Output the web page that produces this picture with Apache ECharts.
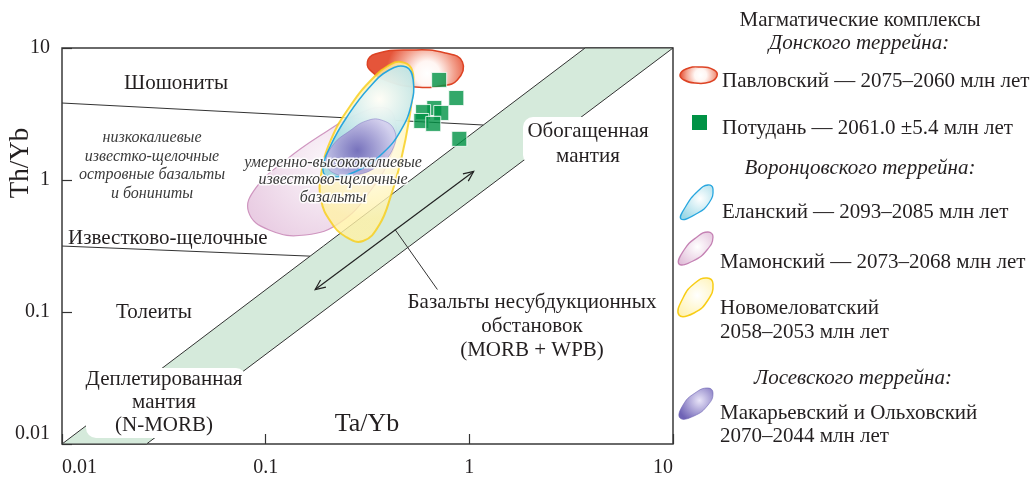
<!DOCTYPE html>
<html>
<head>
<meta charset="utf-8">
<script src="https://cdn.jsdelivr.net/npm/echarts@6/dist/echarts.min.js"></script>
<style>
  html, body { margin: 0; padding: 0; background: #fff; }
  #chart { width: 1030px; height: 478px; }
</style>
</head>
<body>
<div id="chart"></div>
<script>
// Th/Yb – Ta/Yb diagram with magmatic complexes of the Don, Vorontsovka and Losevo terranes

const xTickLabels = ['0.01', '0.1', '1', '10'];
const yTickLabels = ['0.01', '0.1', '1', '10'];

// MORB–OIB mantle array (band corners, Ta/Yb, Th/Yb)
const mantleArray = [[0.01, 0.01], [3.7, 10], [10, 10], [0.026, 0.01]];

// field boundaries
const shoshoniteBoundary = [[0.01, 3.83], [1.17, 2.61]];
const tholeiiteBoundary = [[0.01, 0.316], [0.165, 0.265]];

// enrichment trend arrow and pointer to the band
const enrichmentArrow = [[0.175, 0.148], [1.05, 1.16]];
const leaderLine = [[0.432, 0.421], [0.697, 0.148]];

// composition fields (outline vertices)
const pavlovskyField = [[0.316, 7.84], [0.345, 9.01], [0.513, 9.66], [0.762, 9.17], [0.925, 7.84],
  [0.873, 5.73], [0.720, 5.16], [0.543, 5.07], [0.409, 5.53], [0.333, 6.59]];
const elanskyField = [[0.490, 7.18], [0.530, 5.73], [0.518, 3.70], [0.462, 2.39], [0.381, 1.63],
  [0.287, 1.19], [0.209, 1.05], [0.191, 1.19], [0.209, 1.84], [0.254, 3.10], [0.321, 4.98], [0.404, 6.81]];
const novomelovatskyField = [[0.462, 7.83], [0.518, 7.05], [0.530, 5.25], [0.506, 2.85], [0.462, 1.42],
  [0.413, 0.769], [0.361, 0.456], [0.301, 0.345], [0.248, 0.370], [0.209, 0.481], [0.187, 0.705],
  [0.187, 1.09], [0.209, 2.01], [0.262, 3.70], [0.337, 5.93], [0.413, 7.56]];
const mamonskyField = [[0.390, 3.51], [0.436, 2.61], [0.413, 1.55], [0.329, 0.840], [0.234, 0.481],
  [0.157, 0.383], [0.104, 0.418], [0.0824, 0.573], [0.0893, 0.869], [0.126, 1.42], [0.187, 2.19], [0.277, 3.10]];
const makaryevskyField = [[0.369, 2.85], [0.428, 2.39], [0.423, 1.75], [0.361, 1.30], [0.277, 1.09],
  [0.221, 1.11], [0.198, 1.35], [0.214, 1.84], [0.262, 2.39], [0.311, 2.80]];

// Potudan samples (Ta/Yb, Th/Yb)
const potudanPoints = [[0.711, 5.73], [0.863, 4.18], [0.673, 3.51], [0.728, 3.22],
  [0.593, 3.27], [0.581, 2.80], [0.665, 2.66], [0.893, 2.05]];

const SERIF = '"Liberation Serif", "DejaVu Serif", serif';
const INK = '#231f20';

function radial(x, y, r, stops) {
  return { type: 'radial', x: x, y: y, r: r,
    colorStops: stops.map(function (s) { return { offset: s[0], color: s[1] }; }) };
}

const styles = {
  pavlovsky: { fill: radial(0.62, 0.62, 1.05, [[0, '#ffffff'], [0.3, '#fff6f3'], [0.65, '#f3a28f'], [1, '#e5553a']]),
    stroke: '#dd4324', lineWidth: 1.5 },
  elansky: { fill: radial(0.62, 0.3, 0.7, [[0, '#ffffff'], [1, '#92d4e2']]), stroke: null, opacity: 0.85 },
  elanskyLine: { fill: null, stroke: '#27a6df', lineWidth: 1.5 },
  novomelovatsky: { fill: radial(0.5, 0.5, 0.7, [[0, '#fffdf2'], [1, '#fff1a6']]), stroke: '#f8cd16', lineWidth: 2, opacity: 0.8 },
  mamonsky: { fill: radial(0.55, 0.45, 0.7, [[0, '#fbf6fa'], [1, '#e6c6df']]), stroke: '#c98ab8', lineWidth: 1.2, opacity: 0.88 },
  makaryevsky: { fill: radial(0.45, 0.55, 0.65, [[0, '#6f63b6'], [1, '#d3cdee']]), stroke: 'rgba(120,110,190,0.5)', lineWidth: 1, opacity: 0.88 }
};

function areaSeries(pts, style, z, smooth) {
  return {
    type: 'custom',
    coordinateSystem: 'cartesian2d',
    silent: true,
    z: z,
    data: [pts[0]],
    renderItem: function (params, api) {
      return {
        type: 'polygon',
        shape: { points: pts.map(function (p) { return api.coord(p); }), smooth: smooth },
        style: Object.assign({}, style)
      };
    }
  };
}

function lineSeries(pts, z) {
  return {
    type: 'line', data: pts, symbol: 'none', silent: true, z: z,
    lineStyle: { color: '#333', width: 1 }
  };
}

const arrowSeries = {
  type: 'custom',
  coordinateSystem: 'cartesian2d',
  silent: true,
  z: 3,
  data: [enrichmentArrow[0]],
  renderItem: function (params, api) {
    const a = api.coord(enrichmentArrow[0]);
    const b = api.coord(enrichmentArrow[1]);
    const ang = Math.atan2(b[1] - a[1], b[0] - a[0]);
    function head(p, dir) {
      const L = 11, w = 0.42;
      return [
        [p[0] - dir * L * Math.cos(ang - w), p[1] - dir * L * Math.sin(ang - w)],
        p,
        [p[0] - dir * L * Math.cos(ang + w), p[1] - dir * L * Math.sin(ang + w)]
      ];
    }
    const st = { stroke: '#222', lineWidth: 1.2, fill: null };
    return {
      type: 'group',
      children: [
        { type: 'line', shape: { x1: a[0], y1: a[1], x2: b[0], y2: b[1] }, style: st },
        { type: 'polyline', shape: { points: head(b, 1) }, style: st },
        { type: 'polyline', shape: { points: head(a, -1) }, style: st }
      ]
    };
  }
};

function txt(text, x, y, opts) {
  return Object.assign({
    type: 'text', z: 20, silent: true,
    style: Object.assign({
      text: text, x: x, y: y,
      font: '21px ' + SERIF,
      fill: INK, align: 'left', verticalAlign: 'middle'
    }, (opts && opts.style) || {})
  }, opts && opts.el ? opts.el : {});
}

function italic(text, x, y, size, extra) {
  return txt(text, x, y, { style: Object.assign({
    font: 'italic ' + size + 'px ' + SERIF, align: 'center', fill: '#3a3a3a'
  }, extra || {}) });
}

const graphics = [
  // white label plates over the band
  { type: 'rect', z: 15, silent: true, shape: { x: 86, y: 368, width: 160, height: 70, r: 10 }, style: { fill: '#fff' } },
  { type: 'rect', z: 15, silent: true, shape: { x: 523, y: 117, width: 132, height: 48, r: 10 }, style: { fill: '#fff' } },

  // field names inside the plot
  txt('Шошониты', 176, 83, { style: { align: 'center' } }),
  italic('низкокалиевые\nизвестко-щелочные\nостровные базальты\nи бониниты', 152, 166, 16, { lineHeight: 18.5 }),
  italic('умеренно-высококалиевые\nизвестково-щелочные\nбазальты', 333, 180, 16,
    { lineHeight: 17.5, stroke: 'rgba(255,255,255,0.85)', lineWidth: 3 }),
  txt('Известково-щелочные', 68, 238),
  txt('Толеиты', 154, 312, { style: { align: 'center' } }),
  txt('Деплетированная\nмантия\n(N-MORB)', 164, 402, { style: { align: 'center', lineHeight: 23 } }),
  txt('Обогащенная\nмантия', 588, 144, { style: { align: 'center', lineHeight: 25 } }),
  txt('Базальты несубдукционных\nобстановок\n(MORB + WPB)', 532, 326, { style: { align: 'center', lineHeight: 24 } }),
  txt('Ta/Yb', 367, 424, { style: { align: 'center', font: '26px ' + SERIF } }),
  txt('Th/Yb', 21, 163, { style: { align: 'center', font: '27px ' + SERIF }, el: { rotation: Math.PI / 2, originX: 21, originY: 163 } }),

  // legend
  txt('Магматические комплексы', 860, 20, { style: { align: 'center' } }),
  txt('Донского террейна:', 859, 43, { style: { align: 'center', font: 'italic 21px ' + SERIF } }),
  { type: 'polygon', z: 20, silent: true,
    shape: { points: [[680, 75], [686, 69], [700, 67], [714, 70], [717, 76], [710, 82], [695, 83], [684, 80]], smooth: 0.5 },
    style: { fill: radial(0.55, 0.5, 1.1, [[0, '#ffffff'], [0.3, '#fff6f3'], [0.7, '#f3a592'], [1, '#e5553a']]), stroke: '#dd4324', lineWidth: 1.5 } },
  txt('Павловский — 2075–2060 млн лет', 722, 81),
  { type: 'rect', z: 20, silent: true, shape: { x: 692, y: 115, width: 15, height: 15 }, style: { fill: '#009245' } },
  txt('Потудань — 2061.0 ±5.4 млн лет', 722, 128),
  txt('Воронцовского террейна:', 860, 168, { style: { align: 'center', font: 'italic 21px ' + SERIF } }),
  { type: 'polygon', z: 20, silent: true,
    shape: { points: [[681, 219], [686, 206], [698, 191], [708, 185], [713, 189], [709, 203], [696, 214]], smooth: 0.5 },
    style: { fill: radial(0.6, 0.4, 0.7, [[0, '#ffffff'], [1, '#9bd8e6']]), stroke: '#27a6df', lineWidth: 1.3 } },
  txt('Еланский — 2093–2085 млн лет', 722, 212),
  { type: 'polygon', z: 20, silent: true,
    shape: { points: [[679, 264], [684, 250], [697, 237], [708, 232], [713, 237], [707, 250], [693, 261]], smooth: 0.5 },
    style: { fill: radial(0.55, 0.45, 0.7, [[0, '#ffffff'], [1, '#e0bcd8']]), stroke: '#c481b3', lineWidth: 1.3 } },
  txt('Мамонский — 2073–2068 млн лет', 720, 262),
  { type: 'polygon', z: 20, silent: true,
    shape: { points: [[679, 315], [683, 298], [695, 283], [707, 278], [713, 284], [708, 300], [694, 313]], smooth: 0.5 },
    style: { fill: radial(0.55, 0.45, 0.7, [[0, '#ffffff'], [1, '#fff2b0']]), stroke: '#f8cd16', lineWidth: 1.5 } },
  txt('Новомеловатский', 720, 308),
  txt('2058–2053 млн лет', 720, 332),
  txt('Лосевского террейна:', 853, 378, { style: { align: 'center', font: 'italic 21px ' + SERIF } }),
  { type: 'polygon', z: 20, silent: true,
    shape: { points: [[680, 418], [683, 405], [695, 393], [708, 388], [713, 393], [708, 405], [694, 416]], smooth: 0.5 },
    style: { fill: radial(0.6, 0.4, 0.7, [[0, '#e8e4f8'], [1, '#6f63b6']]), stroke: 'rgba(110,100,180,0.6)', lineWidth: 1 } },
  txt('Макарьевский и Ольховский', 720, 413),
  txt('2070–2044 млн лет', 720, 436)
];

const chart = echarts.init(document.getElementById('chart'), null, { renderer: 'canvas' });

chart.setOption({
  animation: false,
  backgroundColor: '#ffffff',
  grid: { left: 62, right: 357, top: 48, bottom: 33, show: true, borderColor: '#3a3a3a', borderWidth: 1.5, backgroundColor: 'transparent' },
  xAxis: {
    type: 'log', logBase: 10, min: 0.01, max: 10,
    axisLine: { show: false },
    axisTick: { show: true, inside: true, length: 10, lineStyle: { color: '#333', width: 1.2 } },
    splitLine: { show: false },
    minorTick: { show: false },
    axisLabel: {
      margin: 14, fontFamily: SERIF, fontSize: 20, color: INK,
      alignMinLabel: 'left', alignMaxLabel: 'right',
      formatter: function (v) { return xTickLabels[Math.round(Math.log10(v)) + 2]; }
    }
  },
  yAxis: {
    type: 'log', logBase: 10, min: 0.01, max: 10,
    axisLine: { show: false },
    axisTick: { show: true, inside: true, length: 10, lineStyle: { color: '#333', width: 1.2 } },
    splitLine: { show: false },
    minorTick: { show: false },
    axisLabel: {
      margin: 12, fontFamily: SERIF, fontSize: 20, color: INK,
      verticalAlignMinLabel: 'bottom',
      formatter: function (v) { return yTickLabels[Math.round(Math.log10(v)) + 2]; }
    }
  },
  series: [
    areaSeries(mantleArray, { fill: '#d5eadb', stroke: '#333', lineWidth: 1 }, 1, 0),
    lineSeries(shoshoniteBoundary, 2),
    lineSeries(tholeiiteBoundary, 2),
    lineSeries(leaderLine, 2),
    arrowSeries,
    areaSeries(pavlovskyField, styles.pavlovsky, 3, 0.5),
    areaSeries(mamonskyField, styles.mamonsky, 4, 0.45),
    areaSeries(novomelovatskyField, styles.novomelovatsky, 5, 0.45),
    areaSeries(elanskyField, styles.elansky, 6, 0.45),
    areaSeries(makaryevskyField, styles.makaryevsky, 7, 0.45),
    areaSeries(elanskyField, styles.elanskyLine, 8, 0.45),
    {
      type: 'scatter', data: potudanPoints, z: 10, silent: true,
      symbol: 'rect', symbolSize: 15,
      itemStyle: { color: '#009245', borderColor: '#ffffff', borderWidth: 1 }
    }
  ],
  graphic: graphics
});
</script>
</body>
</html>
